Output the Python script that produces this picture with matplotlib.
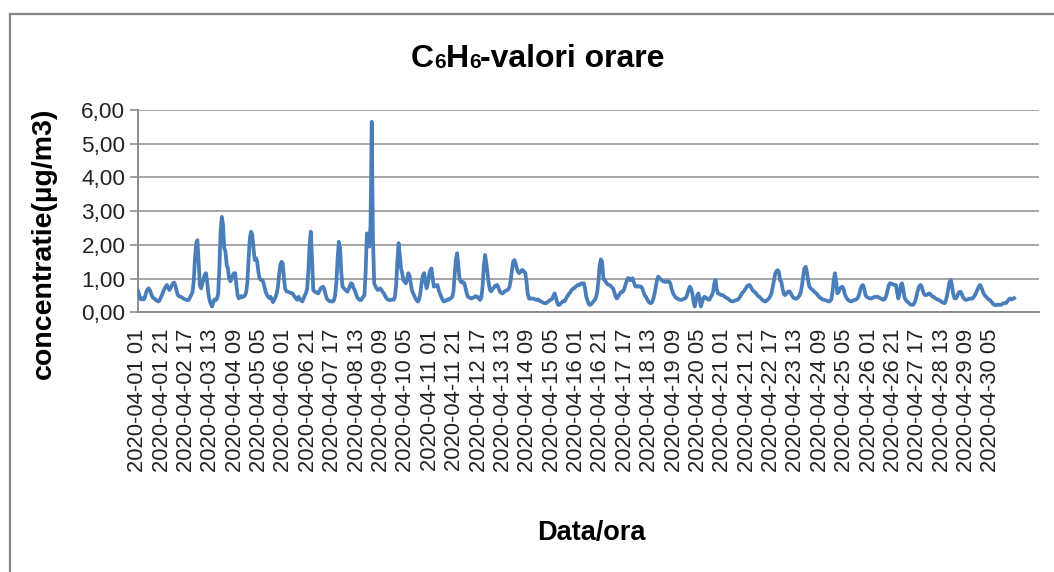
import numpy as np
import matplotlib
matplotlib.use("Agg")
import matplotlib.pyplot as plt
from matplotlib.ticker import FuncFormatter, FixedLocator
from matplotlib.lines import Line2D
import matplotlib.transforms as mtransforms
import datetime

# --- date orare C6H6, aprilie 2020 (o lista pe zi, ore 01..24) ---
day01 = [0.66, 0.55, 0.40, 0.38, 0.42, 0.38, 0.45, 0.60, 0.68, 0.71, 0.66, 0.55, 0.46, 0.42, 0.40, 0.36, 0.34, 0.32, 0.36, 0.44, 0.52, 0.62, 0.70, 0.76]
day02 = [0.81, 0.74, 0.66, 0.72, 0.80, 0.86, 0.88, 0.78, 0.62, 0.51, 0.48, 0.46, 0.45, 0.42, 0.40, 0.38, 0.37, 0.36, 0.37, 0.45, 0.52, 0.60, 0.95, 1.60]
day03 = [2.05, 2.14, 1.50, 0.80, 0.71, 0.85, 1.00, 1.12, 1.16, 0.90, 0.55, 0.35, 0.25, 0.17, 0.30, 0.38, 0.36, 0.40, 0.55, 1.30, 2.40, 2.83, 2.60, 1.90]
day04 = [1.80, 1.40, 1.30, 1.00, 0.92, 0.98, 1.10, 1.16, 1.16, 0.80, 0.50, 0.41, 0.44, 0.48, 0.45, 0.47, 0.50, 0.60, 0.90, 1.60, 2.20, 2.39, 2.30, 1.90]
day05 = [1.55, 1.60, 1.50, 1.20, 1.00, 0.96, 0.96, 0.90, 0.75, 0.60, 0.52, 0.46, 0.42, 0.46, 0.38, 0.30, 0.37, 0.45, 0.55, 0.75, 1.10, 1.40, 1.50, 1.45]
day06 = [1.00, 0.70, 0.62, 0.61, 0.60, 0.58, 0.57, 0.56, 0.50, 0.45, 0.40, 0.37, 0.46, 0.40, 0.35, 0.32, 0.40, 0.50, 0.56, 0.70, 1.20, 2.00, 2.39, 1.60]
day07 = [0.66, 0.62, 0.60, 0.58, 0.56, 0.62, 0.70, 0.74, 0.76, 0.70, 0.55, 0.42, 0.37, 0.34, 0.33, 0.32, 0.32, 0.36, 0.50, 0.90, 1.60, 2.09, 1.90, 1.20]
day08 = [0.76, 0.72, 0.68, 0.64, 0.61, 0.68, 0.78, 0.86, 0.84, 0.72, 0.66, 0.55, 0.45, 0.40, 0.37, 0.36, 0.40, 0.46, 0.50, 1.20, 2.34, 2.20, 1.95, 2.60]
day09 = [5.65, 2.20, 0.86, 0.78, 0.70, 0.66, 0.68, 0.71, 0.66, 0.60, 0.56, 0.48, 0.42, 0.38, 0.37, 0.36, 0.37, 0.38, 0.37, 0.45, 0.80, 1.50, 2.05, 1.70]
day10 = [1.30, 1.16, 0.95, 0.90, 0.86, 1.00, 1.16, 1.10, 0.85, 0.65, 0.56, 0.48, 0.40, 0.35, 0.32, 0.40, 0.60, 0.90, 1.10, 1.16, 0.90, 0.71, 0.85, 1.10]
day11 = [1.25, 1.30, 1.00, 0.76, 0.78, 0.80, 0.81, 0.65, 0.55, 0.46, 0.38, 0.32, 0.33, 0.35, 0.38, 0.37, 0.40, 0.42, 0.46, 0.60, 1.10, 1.55, 1.75, 1.40]
day12 = [1.00, 0.91, 0.88, 0.90, 0.86, 0.70, 0.55, 0.46, 0.44, 0.42, 0.41, 0.43, 0.45, 0.48, 0.46, 0.46, 0.40, 0.37, 0.45, 0.80, 1.40, 1.70, 1.45, 1.16]
day13 = [0.85, 0.66, 0.62, 0.68, 0.72, 0.78, 0.80, 0.81, 0.72, 0.62, 0.58, 0.56, 0.58, 0.62, 0.64, 0.66, 0.68, 0.75, 0.95, 1.25, 1.50, 1.55, 1.45, 1.30]
day14 = [1.20, 1.16, 1.20, 1.25, 1.25, 1.20, 1.16, 0.90, 0.55, 0.41, 0.40, 0.41, 0.41, 0.40, 0.38, 0.37, 0.38, 0.37, 0.33, 0.32, 0.30, 0.28, 0.27, 0.27]
day15 = [0.30, 0.32, 0.36, 0.37, 0.40, 0.48, 0.56, 0.45, 0.30, 0.22, 0.22, 0.26, 0.30, 0.33, 0.32, 0.38, 0.45, 0.50, 0.56, 0.60, 0.66, 0.70, 0.71, 0.75]
day16 = [0.78, 0.81, 0.80, 0.84, 0.86, 0.85, 0.86, 0.70, 0.46, 0.35, 0.25, 0.22, 0.24, 0.28, 0.33, 0.37, 0.45, 0.60, 0.95, 1.40, 1.57, 1.50, 1.00, 0.96]
day17 = [0.90, 0.85, 0.82, 0.81, 0.78, 0.74, 0.71, 0.60, 0.48, 0.41, 0.45, 0.52, 0.58, 0.61, 0.61, 0.68, 0.80, 0.92, 1.01, 1.01, 0.95, 0.98, 1.01, 0.90]
day18 = [0.78, 0.76, 0.78, 0.76, 0.77, 0.76, 0.70, 0.60, 0.50, 0.46, 0.38, 0.32, 0.28, 0.27, 0.30, 0.40, 0.55, 0.75, 0.95, 1.06, 1.02, 0.98, 0.95, 0.92]
day19 = [0.91, 0.90, 0.92, 0.91, 0.91, 0.85, 0.70, 0.58, 0.51, 0.46, 0.42, 0.40, 0.38, 0.37, 0.37, 0.38, 0.40, 0.41, 0.45, 0.55, 0.68, 0.76, 0.70, 0.56]
day20 = [0.30, 0.17, 0.35, 0.50, 0.56, 0.40, 0.17, 0.30, 0.42, 0.46, 0.44, 0.40, 0.38, 0.37, 0.45, 0.50, 0.60, 0.85, 0.96, 0.70, 0.56, 0.55, 0.52, 0.51]
day21 = [0.51, 0.48, 0.45, 0.43, 0.41, 0.38, 0.35, 0.33, 0.32, 0.33, 0.35, 0.36, 0.37, 0.40, 0.45, 0.52, 0.58, 0.61, 0.66, 0.72, 0.78, 0.80, 0.81, 0.75]
day22 = [0.68, 0.63, 0.61, 0.58, 0.52, 0.48, 0.46, 0.42, 0.38, 0.35, 0.33, 0.32, 0.35, 0.38, 0.42, 0.48, 0.58, 0.75, 0.95, 1.15, 1.22, 1.25, 1.20, 0.95]
day23 = [0.91, 0.70, 0.55, 0.51, 0.55, 0.60, 0.62, 0.61, 0.55, 0.48, 0.43, 0.41, 0.40, 0.42, 0.45, 0.50, 0.60, 0.80, 1.10, 1.30, 1.35, 1.20, 0.95, 0.76]
day24 = [0.72, 0.68, 0.65, 0.61, 0.58, 0.55, 0.50, 0.46, 0.43, 0.40, 0.38, 0.37, 0.36, 0.35, 0.33, 0.32, 0.34, 0.38, 0.60, 0.95, 1.16, 0.90, 0.56, 0.60]
day25 = [0.70, 0.74, 0.76, 0.70, 0.55, 0.46, 0.40, 0.36, 0.34, 0.32, 0.33, 0.35, 0.37, 0.37, 0.40, 0.45, 0.55, 0.70, 0.78, 0.81, 0.70, 0.52, 0.46, 0.44]
day26 = [0.42, 0.41, 0.41, 0.43, 0.45, 0.46, 0.46, 0.46, 0.44, 0.42, 0.40, 0.38, 0.37, 0.40, 0.48, 0.62, 0.78, 0.86, 0.86, 0.84, 0.82, 0.81, 0.81, 0.60]
day27 = [0.41, 0.55, 0.80, 0.86, 0.70, 0.45, 0.37, 0.33, 0.30, 0.26, 0.23, 0.22, 0.22, 0.26, 0.35, 0.50, 0.65, 0.76, 0.81, 0.78, 0.65, 0.55, 0.51, 0.51]
day28 = [0.53, 0.56, 0.55, 0.50, 0.47, 0.46, 0.42, 0.40, 0.38, 0.37, 0.35, 0.32, 0.30, 0.28, 0.27, 0.35, 0.50, 0.70, 0.90, 0.96, 0.80, 0.55, 0.42, 0.41]
day29 = [0.45, 0.55, 0.60, 0.61, 0.55, 0.45, 0.40, 0.37, 0.37, 0.38, 0.40, 0.41, 0.40, 0.42, 0.46, 0.52, 0.60, 0.68, 0.76, 0.81, 0.75, 0.65, 0.56, 0.50]
day30 = [0.46, 0.42, 0.38, 0.37, 0.33, 0.28, 0.24, 0.22, 0.21, 0.22, 0.23, 0.22, 0.22, 0.24, 0.26, 0.27, 0.27, 0.30, 0.35, 0.40, 0.41, 0.38, 0.40, 0.42]

days = [day01, day02, day03, day04, day05, day06, day07, day08, day09, day10,
        day11, day12, day13, day14, day15, day16, day17, day18, day19, day20,
        day21, day22, day23, day24, day25, day26, day27, day28, day29, day30]
values = np.concatenate([np.array(d, dtype=float) for d in days])

# etichete "2020-04-DD HH" cu ora 01..24
start = datetime.datetime(2020, 4, 1, 0)
labels = []
for i in range(len(values)):
    t = start + datetime.timedelta(hours=i + 1)
    day = t.day if t.hour != 0 else (t - datetime.timedelta(days=1)).day
    hour = t.hour if t.hour != 0 else 24
    labels.append(f"2020-04-{day:02d} {hour:02d}")
label_step = 20
n_categories = 739.4

# --- figura ---
W, H = 1054, 572
fig = plt.figure(figsize=(W / 100, H / 100), dpi=100)
fig.patch.set_facecolor("white")

def fx(px):
    return px / W

def fy(py):
    return 1 - py / H

ax = fig.add_axes([fx(137.7), fy(312.3), fx(1039) - fx(137.7), fy(110) - fy(312.3)])

x = np.arange(len(values))
ax.plot(x, values, color="#4A7EBB", lw=2.7, solid_joinstyle="round", zorder=3)

ax.set_xlim(0, n_categories)
ax.set_ylim(0, 6)
ax.set_yticks(np.arange(0, 7, 1))
ax.yaxis.set_major_formatter(FuncFormatter(lambda v, p: f"{v:.2f}".replace(".", ",")))
tick_pos = list(range(0, len(values), label_step))
ax.xaxis.set_major_locator(FixedLocator(tick_pos))
ax.set_xticklabels([labels[i] for i in tick_pos], rotation=90, va="top", ha="center")

font = "Liberation Sans"
for lab in ax.get_xticklabels():
    lab.set_fontfamily(font)
    lab.set_fontsize(15.8)
    lab.set_color("#222222")
    lab.set_transform(lab.get_transform() + mtransforms.ScaledTranslation(-4 / 100, 0, fig.dpi_scale_trans))
for lab in ax.get_yticklabels():
    lab.set_fontfamily(font)
    lab.set_fontsize(16.2)
    lab.set_color("#222222")

ax.tick_params(axis="x", length=0, pad=12)
ax.tick_params(axis="y", length=5.8, width=1.2, color="#8C8C8C", direction="out", pad=3)

ax.grid(axis="y", color="#A6A6A6", lw=1.4)
ax.set_axisbelow(True)
for s in ["top", "right"]:
    ax.spines[s].set_visible(False)
for s in ["left", "bottom"]:
    ax.spines[s].set_color("#8C8C8C")
    ax.spines[s].set_linewidth(1.4)

# --- titluri axe ---
fig.text(fx(44), fy(243), "concentratie(µg/m3)", rotation=90, ha="center", va="center",
         fontsize=20.5, fontweight="bold", fontfamily=font)
fig.text(fx(591), fy(533), "Data/ora", ha="center", va="center",
         fontsize=19.5, fontweight="bold", fontfamily=font)

# --- titlu cu indici mici ---
title_parts = [("C", 23, 0), ("6", 15, -1.5), ("H", 23, 0), ("6", 15, -1.5), ("-valori orare", 23, 0)]
renderer = fig.canvas.get_renderer()
pieces = []
total_w = 0
for s, size, dy in title_parts:
    t = fig.text(0, 0, s, fontsize=size, fontweight="bold", fontfamily=font, va="baseline", ha="left")
    w = t.get_window_extent(renderer).width
    pieces.append((t, w, dy))
    total_w += w
x0 = 538 - total_w / 2
base = 67
for t, w, dy in pieces:
    t.set_position((fx(x0), fy(base - dy)))
    x0 += w

# --- chenar exterior ---
border = "#878787"
fig.add_artist(Line2D([fx(9.5), fx(9.5)], [fy(14), -0.05], color=border, lw=1.6, transform=fig.transFigure))
fig.add_artist(Line2D([fx(9.5), 1.05], [fy(14), fy(14)], color=border, lw=1.6, transform=fig.transFigure))

fig.savefig("out.png", dpi=100)
